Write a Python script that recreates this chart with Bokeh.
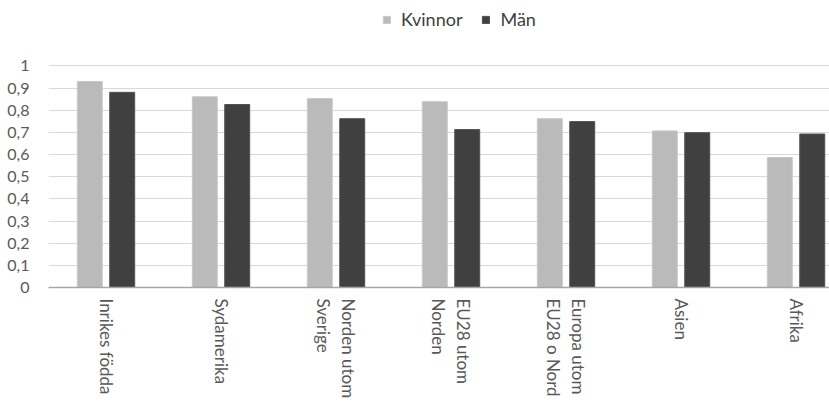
from bokeh.plotting import figure
from bokeh.models import ColumnDataSource, Range1d, FixedTicker, Legend, LegendItem
from bokeh.embed import file_html
from bokeh.resources import INLINE

categories = ["Inrikes födda", "Sydamerika", "Norden utom\nSverige", "EU28 utom\nNorden",
              "Europa utom\nEU28 o Nord", "Asien", "Afrika"]
kvinnor = [0.930, 0.861, 0.853, 0.839, 0.762, 0.707, 0.587]
man = [0.881, 0.826, 0.762, 0.713, 0.749, 0.699, 0.693]
y_ticks = [0, 0.1, 0.2, 0.3, 0.4, 0.5, 0.6, 0.7, 0.8, 0.9, 1.0]
y_tick_labels = ["0", "0,1", "0,2", "0,3", "0,4", "0,5", "0,6", "0,7", "0,8", "0,9", "1"]
series_names = ["Kvinnor", "Män"]
colors = ["#BABABA", "#404040"]

idx = list(range(len(categories)))
src = ColumnDataSource(dict(
    xk=[i - 0.141 for i in idx], xm=[i + 0.141 for i in idx], k=kvinnor, m=man))

FONT = "Lato"
TXT = "#595959"

# frame extends above the value 1 so that the legend can sit in it
p = figure(width=829, height=409, output_backend="svg", toolbar_location=None,
           x_range=Range1d(-0.5, 6.291), y_range=Range1d(0, 1.2957),
           min_border_left=48, min_border_right=0, min_border_top=0, min_border_bottom=122)
p.outline_line_color = None
p.background_fill_color = "white"

rk = p.vbar(x="xk", top="k", width=0.217, source=src, fill_color=colors[0], line_color="#C8C8C8", line_width=1)
rm = p.vbar(x="xm", top="m", width=0.217, source=src, fill_color=colors[1], line_color="#505050", line_width=1)

# y axis
p.yaxis.ticker = FixedTicker(ticks=y_ticks)
p.yaxis.major_label_overrides = {t: l for t, l in zip(y_ticks, y_tick_labels)}
p.yaxis.axis_line_color = None
p.yaxis.major_tick_line_color = None
p.yaxis.major_tick_out = 0
p.yaxis.major_tick_in = 0
p.yaxis.minor_tick_line_color = None
p.yaxis.minor_tick_out = 0
p.yaxis.major_label_standoff = 19
p.yaxis.major_label_text_font = FONT
p.yaxis.major_label_text_font_size = "16px"
p.yaxis.major_label_text_color = TXT

p.ygrid.ticker = FixedTicker(ticks=y_ticks)
p.ygrid.grid_line_color = "#D9D9D9"
p.ygrid.grid_line_width = 1
p.xgrid.grid_line_color = None

# x axis
p.xaxis.ticker = FixedTicker(ticks=idx)
p.xaxis.major_label_overrides = {i: c for i, c in zip(idx, categories)}
p.xaxis.axis_line_color = "#A6A6A6"
p.xaxis.axis_line_width = 1.5
p.xaxis.major_tick_line_color = None
p.xaxis.major_tick_out = 0
p.xaxis.major_tick_in = 0
p.xaxis.minor_tick_line_color = None
p.xaxis.minor_tick_out = 0
p.xaxis.major_label_orientation = -1.5707963
p.xaxis.major_label_standoff = 11
p.xaxis.major_label_text_font = FONT
p.xaxis.major_label_text_font_size = "17px"
p.xaxis.major_label_text_color = TXT
p.xaxis.major_label_text_align = "center"

legend = Legend(items=[LegendItem(label=series_names[0], renderers=[rk]),
                       LegendItem(label=series_names[1], renderers=[rm])],
                orientation="horizontal", location=(334, 257))
legend.border_line_color = None
legend.background_fill_alpha = 0
legend.padding = 0
legend.margin = 0
legend.spacing = 19
legend.glyph_width = 9
legend.glyph_height = 9
legend.label_standoff = 10
legend.label_height = 18
legend.label_text_font = FONT
legend.label_text_font_size = "18px"
legend.label_text_color = "#404040"
p.add_layout(legend)

open("out.html", "w").write(file_html(p, INLINE))
